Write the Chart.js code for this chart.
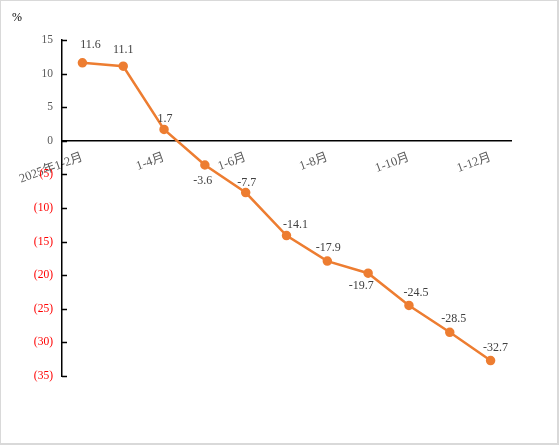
<!DOCTYPE html>
<html>
<head>
<meta charset="utf-8">
<script src="https://cdn.jsdelivr.net/npm/chart.js@4.4.1/dist/chart.umd.min.js"></script>
<style>
  html, body { margin: 0; padding: 0; background: #fff; }
  #wrap { position: relative; width: 556px; height: 442px; border: 1px solid #d9d9d9; border-right-width: 2px; border-bottom-width: 2px; }
  canvas { display: block; }
</style>
</head>
<body>
<div id="wrap"><canvas id="growthChart" width="556" height="442"></canvas></div>
<script>
// categories and values
var months = ['2025年1-2月', '1-3月', '1-4月', '1-5月', '1-6月', '1-7月', '1-8月', '1-9月', '1-10月', '1-11月', '1-12月'];
var growth = [11.6, 11.1, 1.7, -3.6, -7.7, -14.1, -17.9, -19.7, -24.5, -28.5, -32.7];
var yTicks = [15, 10, 5, 0, -5, -10, -15, -20, -25, -30, -35];

var serif = '"Times New Roman", "Liberation Serif", "DejaVu Serif", "Noto Sans CJK SC", serif';
var orange = '#ED7D31';

// value labels, tick marks inside the y axis, and the % unit
var extras = {
  id: 'extras',
  afterDatasetsDraw: function (chart, args, opts) {
    var ctx = chart.ctx;
    var y = chart.scales.y;
    ctx.save();
    // inside tick marks
    ctx.strokeStyle = '#000';
    ctx.lineWidth = 1.5;
    yTicks.forEach(function (v) {
      var py = Math.round(y.getPixelForValue(v)) + 0.5;
      ctx.beginPath();
      ctx.moveTo(y.right, py);
      ctx.lineTo(y.right + 5, py);
      ctx.stroke();
    });
    // unit
    ctx.fillStyle = '#000';
    ctx.font = '12px ' + serif;
    ctx.textAlign = 'left';
    ctx.textBaseline = 'middle';
    ctx.fillText('%', 11, 17);
    // data labels, nudged like the original
    ctx.fillStyle = '#404040';
    ctx.font = '12px ' + serif;
    ctx.textAlign = 'center';
    var meta = chart.getDatasetMeta(0);
    meta.data.forEach(function (pt, i) {
      ctx.fillText(growth[i].toFixed(1), pt.x + opts.dx[i], pt.y + opts.dy[i]);
    });
    ctx.restore();
  }
};

new Chart(document.getElementById('growthChart'), {
  type: 'line',
  data: {
    labels: months,
    datasets: [{
      data: growth,
      borderColor: orange,
      backgroundColor: orange,
      borderWidth: 2.5,
      pointRadius: 3.5,
      pointBackgroundColor: orange,
      pointBorderColor: orange,
      tension: 0
    }]
  },
  options: {
    responsive: false,
    animation: false,
    layout: { padding: { left: 0, right: 46, top: 39, bottom: 67 } },
    plugins: {
      legend: { display: false },
      tooltip: { enabled: false },
      extras: {
        dx: [8, 0, 1, -2, 1, 9, 1, -7, 7, 4, 5],
        dy: [-18, -16, -11, 16, -10, -11, -13, 13, -13, -13, -13]
      }
    },
    scales: {
      x: {
        position: { y: 0 },
        offset: true,
        grid: { display: false, drawTicks: false },
        border: { display: true, color: '#000', width: 1.5 },
        ticks: {
          autoSkip: false,
          minRotation: 20,
          maxRotation: 20,
          padding: 9,
          color: '#595959',
          font: { family: serif, size: 12.5 },
          callback: function (val, idx) {
            return idx % 2 === 0 ? months[idx] : '';
          }
        }
      },
      y: {
        min: -35,
        max: 15,
        afterFit: function (scale) { scale.width = 61; },
        grid: { display: false, drawTicks: false },
        border: { display: true, color: '#000', width: 1.5 },
        afterBuildTicks: function (scale) {
          scale.ticks = yTicks.map(function (v) { return { value: v }; });
        },
        ticks: {
          padding: 9,
          color: function (c) { return c.tick.value < 0 ? '#FF0000' : '#595959'; },
          font: { family: serif, size: 11.5 },
          callback: function (v) { return v < 0 ? '(' + (-v) + ')' : String(v); }
        }
      }
    }
  },
  plugins: [extras]
});
</script>
</body>
</html>
